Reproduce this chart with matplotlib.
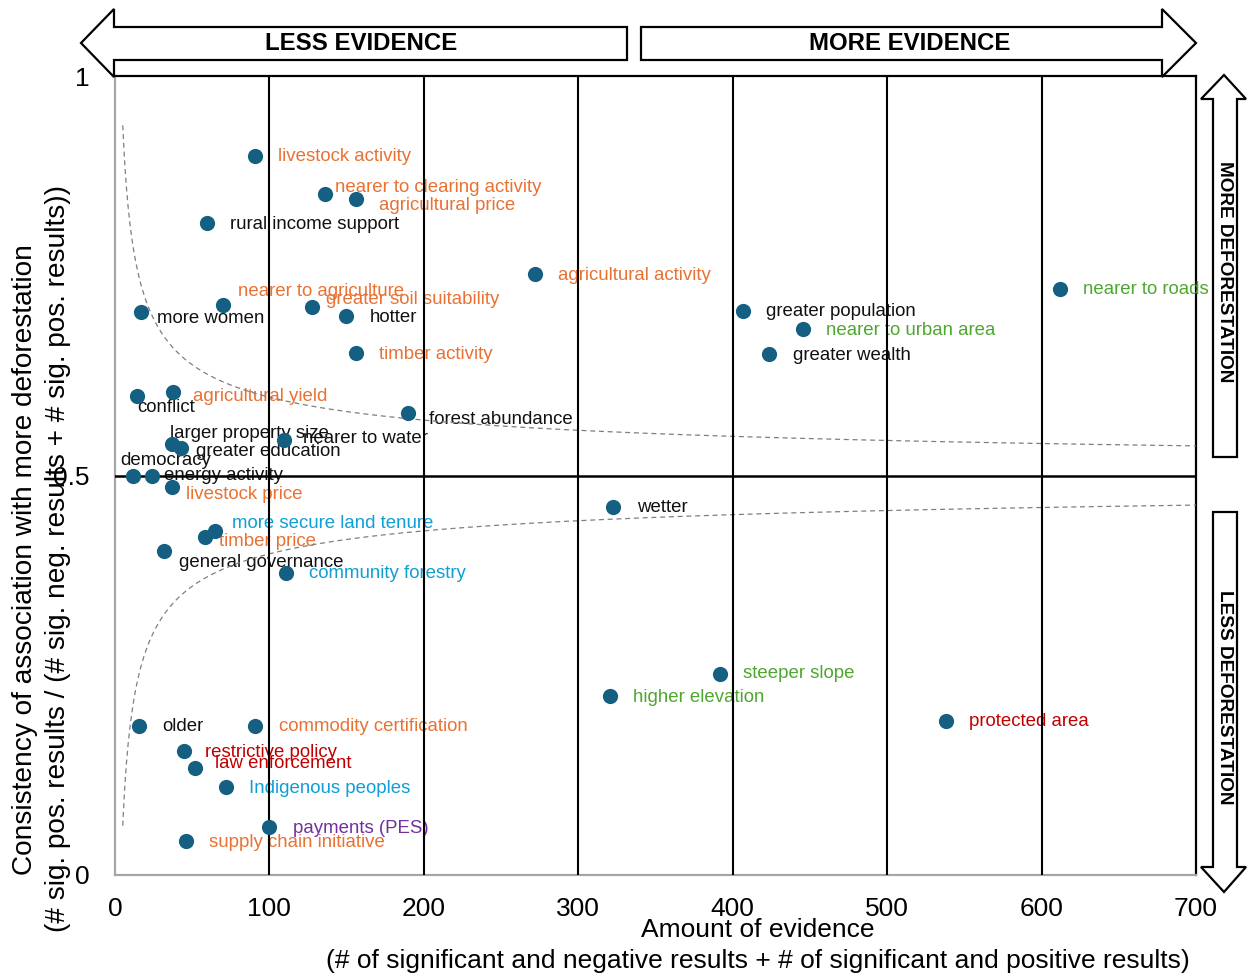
import matplotlib.pyplot as plt
import numpy as np
from matplotlib.patches import Polygon

plt.rcParams['font.family'] = ['Liberation Sans', 'DejaVu Sans']

# factors (label, amount of evidence, consistency, colour group)
labels = [
    'livestock activity', 'nearer to clearing activity', 'agricultural price', 'rural income support',
    'agricultural activity', 'nearer to roads', 'nearer to agriculture', 'greater soil suitability',
    'hotter', 'more women', 'greater population', 'nearer to urban area', 'greater wealth',
    'timber activity', 'conflict', 'agricultural yield', 'forest abundance', 'nearer to water',
    'larger property size', 'greater education', 'democracy', 'energy activity', 'livestock price',
    'wetter', 'more secure land tenure', 'timber price', 'general governance', 'community forestry',
    'steeper slope', 'higher elevation', 'protected area', 'older', 'commodity certification',
    'restrictive policy', 'law enforcement', 'Indigenous peoples', 'payments (PES)',
    'supply chain initiative',
]
evidence = [
    90.7, 135.8, 155.9, 59.8,
    271.8, 611.9, 69.7, 127.8,
    149.8, 16.6, 406.7, 445.8, 423.5,
    155.9, 14.5, 37.8, 189.5, 109.6,
    36.7, 42.5, 11.9, 23.8, 36.7,
    322.4, 64.8, 58.5, 31.5, 110.7,
    391.8, 320.5, 537.9, 15.7, 90.7,
    44.7, 51.8, 71.7, 99.9,
    45.8,
]
consistency = [
    0.900, 0.852, 0.846, 0.816,
    0.752, 0.734, 0.713, 0.711,
    0.699, 0.705, 0.706, 0.683, 0.652,
    0.653, 0.600, 0.604, 0.578, 0.544,
    0.540, 0.534, 0.499, 0.499, 0.486,
    0.461, 0.431, 0.423, 0.406, 0.378,
    0.252, 0.224, 0.193, 0.187, 0.187,
    0.155, 0.134, 0.110, 0.060,
    0.043,
]
groups = [
    'agri', 'agri', 'agri', 'other',
    'agri', 'infra', 'agri', 'agri',
    'other', 'other', 'other', 'infra', 'other',
    'agri', 'other', 'agri', 'other', 'other',
    'other', 'other', 'other', 'other', 'agri',
    'other', 'tenure', 'agri', 'other', 'tenure',
    'infra', 'infra', 'policy', 'other', 'agri',
    'policy', 'policy', 'tenure', 'pes',
    'agri',
]

group_colors = {
    'agri': '#E97132',
    'other': '#111111',
    'infra': '#4EA72E',
    'tenure': '#0F9ED5',
    'policy': '#C00000',
    'pes': '#7030A0',
}

# label offsets from the dot, in pixels (dx, dy)
label_offsets = [
    (23, -1), (10, 7), (23, -6), (23, -1),
    (23, -1), (23, -1), (15, 14), (14, 7),
    (23, -1), (16, -7), (23, -1), (23, -1), (24, -1),
    (23, -1), (0, -12), (20, -4), (21, -6), (19, 2),
    (-2, 10), (15, -3), (-13, 16), (12, 1), (14, -8),
    (24, -1), (17, 7), (14, -4), (15, -12), (23, -1),
    (23, 0), (23, -1), (23, -1), (23, -1), (24, -1),
    (21, -1), (20, 4), (23, -1), (24, -1),
    (23, -2),
]

W, H = 1247, 977
fig = plt.figure(figsize=(W / 100, H / 100), dpi=100)
ax = fig.add_axes([115 / W, 1 - 875 / H, (1196 - 115) / W, (875 - 76) / H])


def P(x, y):
    # figure pixel (from top-left) -> figure fraction
    return (x / W, 1 - y / H)


# 95% significance band around 0.5
n = np.linspace(5, 700, 600)
half = 1.96 * 0.5 / np.sqrt(n)
ax.plot(n, 0.5 + half, ls=(0, (4, 3)), color='#7F7F7F', lw=0.9, zorder=5)
ax.plot(n, 0.5 - half, ls=(0, (4, 3)), color='#7F7F7F', lw=0.9, zorder=5)

for xv in [100, 200, 300, 400, 500, 600]:
    ax.axvline(xv, color='black', lw=1.5, zorder=5)
ax.axhline(0.5, color='black', lw=1.8, zorder=5)

ax.scatter(evidence, consistency, s=120, color='#156082', zorder=6, linewidths=0)

for i in range(len(labels)):
    ax.annotate(labels[i], (evidence[i], consistency[i]), xytext=label_offsets[i],
                textcoords='offset pixels', ha='left', va='center', fontsize=13.4,
                color=group_colors[groups[i]], zorder=4)

ax.set_xlim(0, 700)
ax.set_ylim(0, 1)
ax.set_xticks([0, 100, 200, 300, 400, 500, 600, 700])
ax.set_yticks([0, 0.5, 1])
ax.set_yticklabels(['0', '0.5', '1'])
ax.tick_params(axis='both', length=0, labelsize=19)
ax.tick_params(axis='x', pad=16)
ax.tick_params(axis='y', pad=18)
for s in ['left', 'bottom']:
    ax.spines[s].set_color('#A6A6A6')
    ax.spines[s].set_linewidth(1.6)
for s in ['top', 'right']:
    ax.spines[s].set_color('black')
    ax.spines[s].set_linewidth(1.6)

fig.text(758 / W, 1 - 930 / H, 'Amount of evidence', ha='center', va='center', fontsize=19)
fig.text(758 / W, 1 - 961 / H,
         '(# of significant and negative results + # of significant and positive results)',
         ha='center', va='center', fontsize=19)
fig.text(25 / W, 1 - 560 / H, 'Consistency of association with more deforestation',
         ha='center', va='center', rotation=90, fontsize=20.2)
fig.text(58 / W, 1 - 558 / H,
         '(# sig. pos. results / (# sig. neg. results + # sig. pos. results))',
         ha='center', va='center', rotation=90, fontsize=20.2)

# big outline arrows round the plot
arrows = [
    [(81, 43), (114, 9), (114, 27), (627, 27), (627, 60), (114, 60), (114, 77)],
    [(1196, 43), (1162, 9), (1162, 27), (641, 27), (641, 60), (1162, 60), (1162, 77)],
    [(1224, 75), (1246, 99), (1237, 99), (1237, 457), (1213, 457), (1213, 99), (1201, 99)],
    [(1224, 892), (1246, 867), (1237, 867), (1237, 512), (1213, 512), (1213, 867), (1201, 867)],
]
for pts in arrows:
    fig.add_artist(Polygon([P(x, y) for x, y in pts], closed=True, facecolor='white',
                           edgecolor='black', lw=1.6, transform=fig.transFigure, zorder=5))

fig.text(*P(361, 43), 'LESS EVIDENCE', ha='center', va='center', fontsize=17.3,
         fontweight='bold', zorder=6)
fig.text(*P(910, 43), 'MORE EVIDENCE', ha='center', va='center', fontsize=17.3,
         fontweight='bold', zorder=6)
fig.text(*P(1225, 272), 'MORE DEFORESTATION', ha='center', va='center', fontsize=13.7,
         fontweight='bold', rotation=-90, zorder=6)
fig.text(*P(1225, 697), 'LESS DEFORESTATION', ha='center', va='center', fontsize=13.7,
         fontweight='bold', rotation=-90, zorder=6)

fig.savefig('out.png', dpi=100)
